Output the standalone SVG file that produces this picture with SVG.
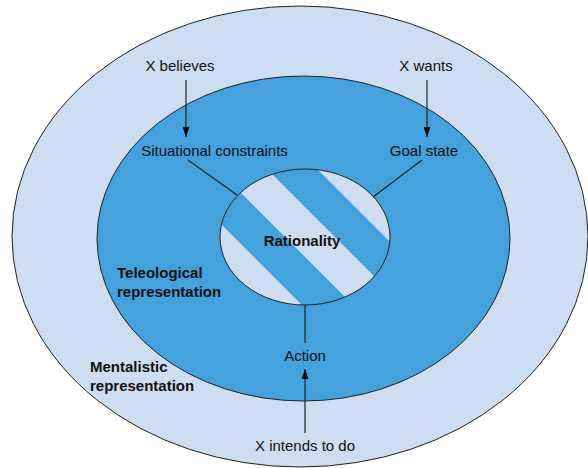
<svg xmlns="http://www.w3.org/2000/svg" width="588" height="468" viewBox="0 0 588 468">
<style>
.lt{fill:#cddef2}
.bl{fill:#45a1dc}
.edge{fill:none;stroke:#222;stroke-width:1}
.con{stroke:#222;stroke-width:1.2;fill:none}
text{font-family:"Liberation Sans",Arial,sans-serif;font-size:15px;fill:#111}
.b{font-weight:bold}
</style>
<defs>
<marker id="ah" markerUnits="userSpaceOnUse" markerWidth="10" markerHeight="7" refX="10" refY="3.5" orient="auto">
<path d="M0,0 L10,3.5 L0,7 z" fill="#111"/>
</marker>
<clipPath id="cc"><ellipse cx="305" cy="237" rx="85" ry="68"/></clipPath>
</defs>
<rect width="588" height="468" fill="#ffffff"/>
<g id="mentalistic">
<ellipse class="lt" cx="300" cy="236.5" rx="288" ry="230.5"/>
<ellipse class="edge" cx="300" cy="236.5" rx="288" ry="230.5"/>
<text class="b" x="90" y="372">Mentalistic</text>
<text class="b" x="90" y="391">representation</text>
</g>
<g id="teleological">
<ellipse class="bl" cx="303.5" cy="238.5" rx="206.5" ry="162.5"/>
<ellipse class="edge" cx="303.5" cy="238.5" rx="206.5" ry="162.5"/>
<text class="b" x="117" y="278">Teleological</text>
<text class="b" x="117" y="297">representation</text>
</g>
<g id="rationality">
<ellipse class="bl" cx="305" cy="237" rx="85" ry="68"/>
<g clip-path="url(#cc)" class="lt">
<polygon points="97,150 147,150 317,320 267,320"/>
<polygon points="198,150 248,150 418,320 368,320"/>
<polygon points="298,150 348,150 518,320 468,320"/>
</g>
<ellipse class="edge" cx="305" cy="237" rx="85" ry="68"/>
<text class="b" x="302" y="246" text-anchor="middle">Rationality</text>
</g>
<g id="x-believes"><text x="180" y="71" text-anchor="middle">X believes</text></g>
<g id="x-wants"><text x="426" y="71" text-anchor="middle">X wants</text></g>
<g id="situational"><text x="214.5" y="156" text-anchor="middle">Situational constraints</text></g>
<g id="goal"><text x="424" y="156" text-anchor="middle">Goal state</text></g>
<g id="action"><text x="305" y="361" text-anchor="middle">Action</text></g>
<g id="x-intends"><text x="305" y="451" text-anchor="middle">X intends to do</text></g>
<g id="connectors">
<line class="con" x1="186" y1="80" x2="186" y2="137" marker-end="url(#ah)"/>
<line class="con" x1="427" y1="80" x2="427" y2="137" marker-end="url(#ah)"/>
<line class="con" x1="305" y1="433" x2="305" y2="369" marker-end="url(#ah)"/>
<line class="con" x1="305" y1="305" x2="305" y2="343"/>
<line class="con" x1="188" y1="160" x2="237" y2="195"/>
<line class="con" x1="422" y1="160" x2="373" y2="197"/>
</g>
</svg>
